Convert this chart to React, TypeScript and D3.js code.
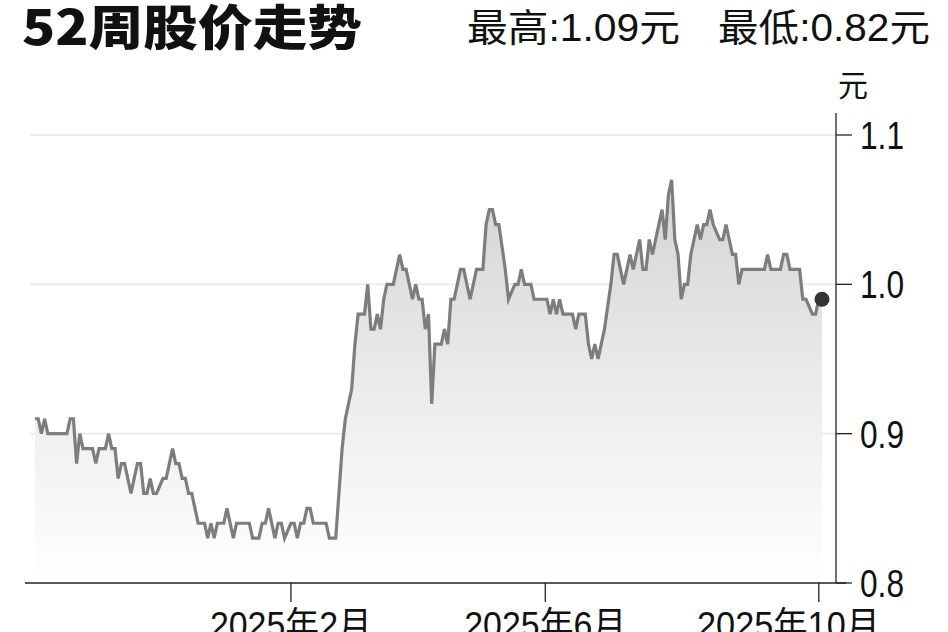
import React from "react";
import * as d3 from "d3";

const days = [0,1,2,3,4,10,11,12,13,14,15,18,19,20,22,23,24,25,26,27,28,30,32,33,34,35,36,37,38,40,41,42,43,44,45,46,47,48,49,50,51,53,54,55,56,57,59,60,62,63,67,68,70,71,72,73,75,76,77,78,80,81,82,83,84,85,86,87,91,92,94,96,97,98,99,100,101,102,103,104,105,106,107,108,109,110,112,113,114,115,116,118,119,120,121,122,123,124,125,127,128,129,130,131,132,133,134,136,138,140,141,142,143,144,145,147,148,150,151,152,153,155,156,160,161,162,163,164,165,168,169,170,172,173,174,175,176,178,180,181,182,183,184,185,186,187,189,190,191,192,193,194,195,196,197,198,199,200,201,202,203,204,205,206,207,208,209,210,211,212,214,215,216,217,218,219,220,221,228,229,230,233,234,235,236,239,240,241,243,244,245,246];
const closes = [0.91,0.91,0.90,0.91,0.90,0.90,0.91,0.91,0.88,0.90,0.89,0.89,0.88,0.89,0.89,0.90,0.89,0.89,0.87,0.88,0.88,0.86,0.88,0.88,0.86,0.86,0.87,0.86,0.86,0.87,0.87,0.88,0.89,0.88,0.88,0.87,0.87,0.86,0.86,0.85,0.84,0.84,0.83,0.84,0.83,0.84,0.84,0.85,0.83,0.84,0.84,0.83,0.83,0.84,0.84,0.85,0.83,0.84,0.84,0.83,0.84,0.84,0.83,0.84,0.84,0.85,0.85,0.84,0.84,0.83,0.83,0.89,0.91,0.92,0.93,0.96,0.98,0.98,0.98,1.00,0.97,0.97,0.98,0.97,0.99,1.00,1.00,1.01,1.02,1.01,1.01,0.99,1.00,0.99,0.99,0.97,0.98,0.92,0.96,0.96,0.97,0.96,0.99,0.99,1.00,1.01,1.01,0.99,1.01,1.01,1.04,1.05,1.05,1.04,1.04,1.01,0.99,1.00,1.00,1.01,1.00,1.00,0.99,0.99,0.98,0.99,0.98,0.99,0.98,0.98,0.97,0.98,0.98,0.96,0.95,0.96,0.95,0.97,1.00,1.02,1.02,1.01,1.00,1.01,1.02,1.01,1.03,1.01,1.01,1.03,1.02,1.03,1.04,1.05,1.03,1.06,1.07,1.03,1.02,0.99,1.00,1.00,1.02,1.03,1.04,1.03,1.04,1.04,1.05,1.04,1.03,1.03,1.04,1.03,1.02,1.02,1.00,1.01,1.01,1.02,1.01,1.01,1.02,1.02,1.01,1.01,0.99,0.99,0.98,0.98,0.99,0.99];

const yTicks = [0.8, 0.9, 1.0, 1.1];
const xTickDays = [80, 159.5, 245];
const xTickLabels = ["2025年2月", "2025年6月", "2025年10月"];
const title = "52周股价走势";
const highText = "最高:1.09元";
const lowText = "最低:0.82元";
const unitLabel = "元";

const W = 948;
const H = 632;

export default function App() {
  const data = days.map((d, i) => ({ d, v: closes[i] }));
  const x = d3.scaleLinear().domain([0, 246]).range([35, 822]);
  const y = d3.scaleLinear().domain([0.8, 1.1]).range([583, 135]);
  const line = d3.line<{ d: number; v: number }>().x((p) => x(p.d)).y((p) => y(p.v));
  const area = d3
    .area<{ d: number; v: number }>()
    .x((p) => x(p.d))
    .y0(y(0.8))
    .y1((p) => y(p.v));
  const last = data[data.length - 1];
  const axisX = 836;
  const font = "'Liberation Sans', Arial, 'Noto Sans CJK SC', sans-serif";
  const cjk = "'Noto Sans CJK SC', sans-serif";

  return (
    <svg
      width={W}
      height={H}
      style={{ position: "absolute", left: 0, top: 0, background: "#fff" }}
    >
      <defs>
        <linearGradient id="areaGrad" gradientUnits="userSpaceOnUse" x1="0" x2="0" y1={y(1.08)} y2={y(0.8)}>
          <stop offset="0" stopColor="#d2d2d2" />
          <stop offset="0.55" stopColor="#ececec" />
          <stop offset="1" stopColor="#ffffff" />
        </linearGradient>
      </defs>
      <rect x={0} y={0} width={W} height={H} fill="#fff" />

      {yTicks.filter((t) => t > 0.8).map((t) => (
        <line key={t} x1={30} x2={axisX} y1={y(t)} y2={y(t)} stroke="#ededed" strokeWidth={2} />
      ))}

      <path d={area(data) || ""} fill="url(#areaGrad)" />
      <path d={line(data) || ""} fill="none" stroke="#7d7d7d" strokeWidth={3.2} strokeLinejoin="miter" />
      <circle cx={x(last.d)} cy={y(last.v)} r={7.5} fill="#333" />

      <line x1={25} x2={846} y1={y(0.8)} y2={y(0.8)} stroke="#222" strokeWidth={1.3} />
      <line x1={axisX} x2={axisX} y1={113} y2={y(0.8)} stroke="#222" strokeWidth={1.3} />
      {yTicks.map((t) => (
        <g key={t}>
          <line x1={axisX} x2={852} y1={y(t)} y2={y(t)} stroke="#222" strokeWidth={1.3} />
          <text
            x={860}
            y={y(t) + 14}
            fontFamily={font}
            fontSize={38}
            fill="#111"
            textLength={44}
            lengthAdjust="spacingAndGlyphs"
          >
            {t.toFixed(1)}
          </text>
        </g>
      ))}
      <text x={838} y={96} fontFamily={cjk} fontSize={30} fill="#111">
        {unitLabel}
      </text>

      {xTickDays.map((d, i) => {
        const isLast = i === xTickDays.length - 1;
        return (
          <g key={d}>
            <line x1={x(d)} x2={x(d)} y1={y(0.8)} y2={602} stroke="#222" strokeWidth={1.3} />
            <text
              x={isLast ? 880 : x(d)}
              y={638}
              textAnchor={isLast ? "end" : "middle"}
              fontFamily={font}
              fontSize={36}
              fill="#111"
              textLength={isLast ? 183 : 162}
              lengthAdjust="spacingAndGlyphs"
            >
              {xTickLabels[i]}
            </text>
          </g>
        );
      })}

      <text
        x={22}
        y={45}
        fontFamily={cjk}
        fontWeight={900}
        fontSize={48}
        fill="#111"
        textLength={340}
        lengthAdjust="spacingAndGlyphs"
      >
        {title}
      </text>
      <text
        x={467}
        y={41}
        fontFamily={font}
        fontSize={38}
        fill="#111"
        textLength={213}
        lengthAdjust="spacingAndGlyphs"
      >
        {highText}
      </text>
      <text
        x={718}
        y={41}
        fontFamily={font}
        fontSize={38}
        fill="#111"
        textLength={212}
        lengthAdjust="spacingAndGlyphs"
      >
        {lowText}
      </text>
    </svg>
  );
}
